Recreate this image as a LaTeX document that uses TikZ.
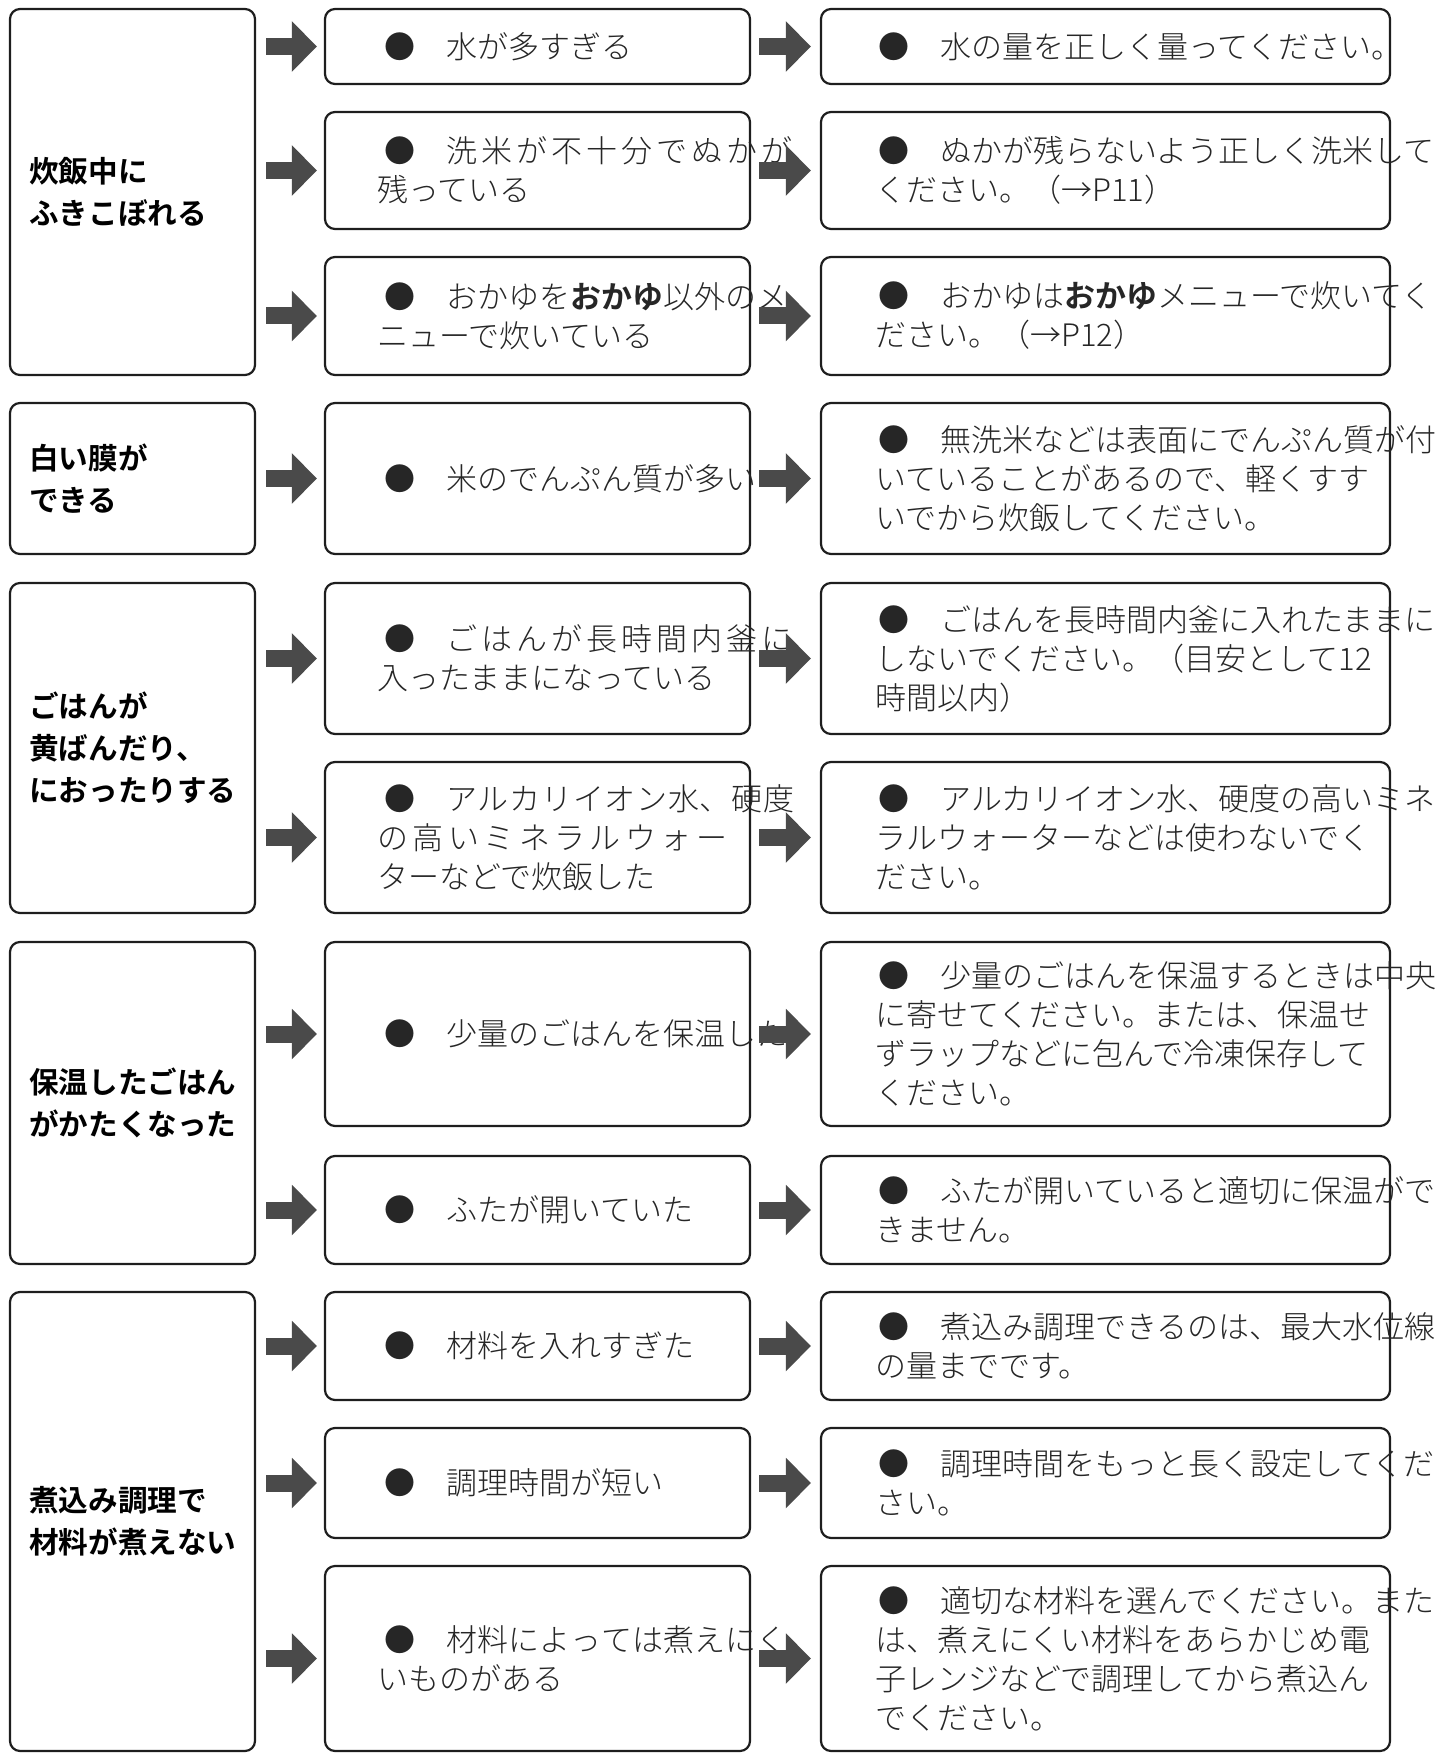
\documentclass[tikz,border=0pt]{standalone}
\usepackage{fontspec}
\setmainfont{Noto Sans CJK JP}[UprightFont=* Light, BoldFont=* Bold]
\usetikzlibrary{arrows.meta,positioning}

\definecolor{boxline}{HTML}{1E1E1E}
\definecolor{arrowgray}{HTML}{4A4A4A}
\definecolor{inkgray}{HTML}{262626}

% spread the characters of one line over a given width
\newcommand\spreadline[2]{\makebox[#1][s]{\spreadfirst#2\relax}}
\def\spreadfirst#1{#1\spreadrest}
\def\spreadrest#1{\ifx\relax#1\else\hfil#1\expandafter\spreadrest\fi}
% bullet at the head of an item
\newcommand\bul[1][0pt]{\hspace*{#1}●　}

\tikzset{
  cellbox/.style={draw=boxline, line width=1.1pt, rounded corners=5pt, inner sep=0pt},
  leftcell/.style={cellbox, minimum width=122.5pt},
  midcell/.style={cellbox, minimum width=212.5pt},
  rightcell/.style={cellbox, minimum width=284.5pt},
  causetxt/.style={inner sep=0pt, align=left, text=black,
    font=\fontsize{14.8pt}{21pt}\selectfont\bfseries},
  itemtxt/.style={inner sep=0pt, align=left, text=inkgray,
    font=\fontsize{15.5pt}{19.5pt}\selectfont},
  blockarrow/.style={draw=arrowgray, line width=8.5pt,
    -{Triangle[length=12.5pt,width=24.5pt]}, arrowgray},
}

\begin{document}
\begin{tikzpicture}[x=1pt, y=1pt]
\useasboundingbox (0,0) rectangle (721.5,-877);

% left column: symptoms
\node[leftcell, minimum height=183pt] (L1) at (66.25,-96) {};
\node[leftcell, minimum height=75.5pt] (L2) at (66.25,-239.25) {};
\node[leftcell, minimum height=165pt] (L3) at (66.25,-374) {};
\node[leftcell, minimum height=161pt] (L4) at (66.25,-551.5) {};
\node[leftcell, minimum height=229.5pt] (L5) at (66.25,-760.75) {};

% middle column: causes
\node[midcell, minimum height=37.5pt] (m11) at (268.75,-23.25) {};
\node[midcell, minimum height=58.5pt] (m12) at (268.75,-85.25) {};
\node[midcell, minimum height=59pt] (m13) at (268.75,-158) {};
\node[midcell, minimum height=75.5pt] (m21) at (268.75,-239.25) {};
\node[midcell, minimum height=75.5pt] (m31) at (268.75,-329.25) {};
\node[midcell, minimum height=75.5pt] (m32) at (268.75,-418.75) {};
\node[midcell, minimum height=92pt] (m41) at (268.75,-517) {};
\node[midcell, minimum height=54pt] (m42) at (268.75,-605) {};
\node[midcell, minimum height=54pt] (m51) at (268.75,-673) {};
\node[midcell, minimum height=55pt] (m52) at (268.75,-741.5) {};
\node[midcell, minimum height=92.5pt] (m53) at (268.75,-829.25) {};

% right column: remedies
\node[rightcell, minimum height=37.5pt] (r11) at (552.75,-23.25) {};
\node[rightcell, minimum height=58.5pt] (r12) at (552.75,-85.25) {};
\node[rightcell, minimum height=59pt] (r13) at (552.75,-158) {};
\node[rightcell, minimum height=75.5pt] (r21) at (552.75,-239.25) {};
\node[rightcell, minimum height=75.5pt] (r31) at (552.75,-329.25) {};
\node[rightcell, minimum height=75.5pt] (r32) at (552.75,-418.75) {};
\node[rightcell, minimum height=92pt] (r41) at (552.75,-517) {};
\node[rightcell, minimum height=54pt] (r42) at (552.75,-605) {};
\node[rightcell, minimum height=54pt] (r51) at (552.75,-673) {};
\node[rightcell, minimum height=55pt] (r52) at (552.75,-741.5) {};
\node[rightcell, minimum height=92.5pt] (r53) at (552.75,-829.25) {};

% texts
\node[causetxt, right=10pt of L1.west] (L1t) {炊飯中に\\ふきこぼれる};
\node[causetxt, right=10pt of L2.west] (L2t) {白い膜が\\できる};
\node[causetxt, right=10pt of L3.west] (L3t) {ごはんが\\黄ばんだり、\\におったりする};
\node[causetxt, right=10pt of L4.west] (L4t) {保温したごはん\\がかたくなった};
\node[causetxt, right=10pt of L5.west] (L5t) {煮込み調理で\\材料が煮えない};

\node[itemtxt, right=26.5pt of m11.west] (m11t) {\bul[3.5pt]水が多すぎる};
\node[itemtxt, right=26.5pt of m12.west] (m12t) {\bul[3.5pt]\spreadline{173pt}{洗米が不十分でぬかが}\\残っている};
\node[itemtxt, right=26.5pt of m13.west] (m13t) {\bul[3.5pt]おかゆを\textbf{おかゆ}以外のメ\\ニューで炊いている};
\node[itemtxt, right=26.5pt of m21.west] (m21t) {\bul[3.5pt]米のでんぷん質が多い};
\node[itemtxt, right=26.5pt of m31.west] (m31t) {\bul[3.5pt]\spreadline{173pt}{ごはんが長時間内釜に}\\入ったままになっている};
\node[itemtxt, right=26.5pt of m32.west] (m32t) {\bul[3.5pt]\spreadline{174pt}{アルカリイオン水、硬度}\\\spreadline{175pt}{の高いミネラルウォー}\\ターなどで炊飯した};
\node[itemtxt, right=26.5pt of m41.west] (m41t) {\bul[3.5pt]少量のごはんを保温した};
\node[itemtxt, right=26.5pt of m42.west] (m42t) {\bul[3.5pt]ふたが開いていた};
\node[itemtxt, right=26.5pt of m51.west] (m51t) {\bul[3.5pt]材料を入れすぎた};
\node[itemtxt, right=26.5pt of m52.west] (m52t) {\bul[3.5pt]調理時間が短い};
\node[itemtxt, right=26.5pt of m53.west] (m53t) {\bul[3.5pt]\spreadline{170pt}{材料によっては煮えにく}\\いものがある};

\node[itemtxt, right=27.5pt of r11.west] (r11t) {\bul[1.5pt]水の量を正しく量ってください。};
\node[itemtxt, right=27.5pt of r12.west] (r12t) {\bul[1.5pt]ぬかが残らないよう正しく洗米して\\ください。（→P11）};
\node[itemtxt, right=27.5pt of r13.west] (r13t) {\bul[1.5pt]おかゆは\textbf{おかゆ}メニューで炊いてく\\ださい。（→P12）};
\node[itemtxt, right=27.5pt of r21.west] (r21t) {\bul[1.5pt]無洗米などは表面にでんぷん質が付\\いていることがあるので、軽くすす\\いでから炊飯してください。};
\node[itemtxt, right=27.5pt of r31.west] (r31t) {\bul[1.5pt]ごはんを長時間内釜に入れたままに\\しないでください。（目安として12\\時間以内）};
\node[itemtxt, right=27.5pt of r32.west] (r32t) {\bul[1.5pt]アルカリイオン水、硬度の高いミネ\\ラルウォーターなどは使わないでく\\ださい。};
\node[itemtxt, right=27.5pt of r41.west] (r41t) {\bul[1.5pt]少量のごはんを保温するときは中央\\に寄せてください。または、保温せ\\ずラップなどに包んで冷凍保存して\\ください。};
\node[itemtxt, right=27.5pt of r42.west] (r42t) {\bul[1.5pt]ふたが開いていると適切に保温がで\\きません。};
\node[itemtxt, right=27.5pt of r51.west] (r51t) {\bul[1.5pt]煮込み調理できるのは、最大水位線\\の量までです。};
\node[itemtxt, right=27.5pt of r52.west] (r52t) {\bul[1.5pt]調理時間をもっと長く設定してくだ\\さい。};
\node[itemtxt, right=27.5pt of r53.west] (r53t) {\bul[1.5pt]適切な材料を選んでください。また\\は、煮えにくい材料をあらかじめ電\\子レンジなどで調理してから煮込ん\\でください。};

% arrows symptom -> cause
\path[every edge/.style={blockarrow, shorten <=5pt, shorten >=3.5pt}]
    (L1.east |- m11.west) edge (m11.west)
    (L1.east |- m12.west) edge (m12.west)
    (L1.east |- m13.west) edge (m13.west)
    (L2.east |- m21.west) edge (m21.west)
    (L3.east |- m31.west) edge (m31.west)
    (L3.east |- m32.west) edge (m32.west)
    (L4.east |- m41.west) edge (m41.west)
    (L4.east |- m42.west) edge (m42.west)
    (L5.east |- m51.west) edge (m51.west)
    (L5.east |- m52.west) edge (m52.west)
    (L5.east |- m53.west) edge (m53.west);

% arrows cause -> remedy
\path[every edge/.style={blockarrow, shorten <=4pt, shorten >=4.5pt}]
    (m11.east) edge (r11.west)
    (m12.east) edge (r12.west)
    (m13.east) edge (r13.west)
    (m21.east) edge (r21.west)
    (m31.east) edge (r31.west)
    (m32.east) edge (r32.west)
    (m41.east) edge (r41.west)
    (m42.east) edge (r42.west)
    (m51.east) edge (r51.west)
    (m52.east) edge (r52.west)
    (m53.east) edge (r53.west);

\end{tikzpicture}
\end{document}
